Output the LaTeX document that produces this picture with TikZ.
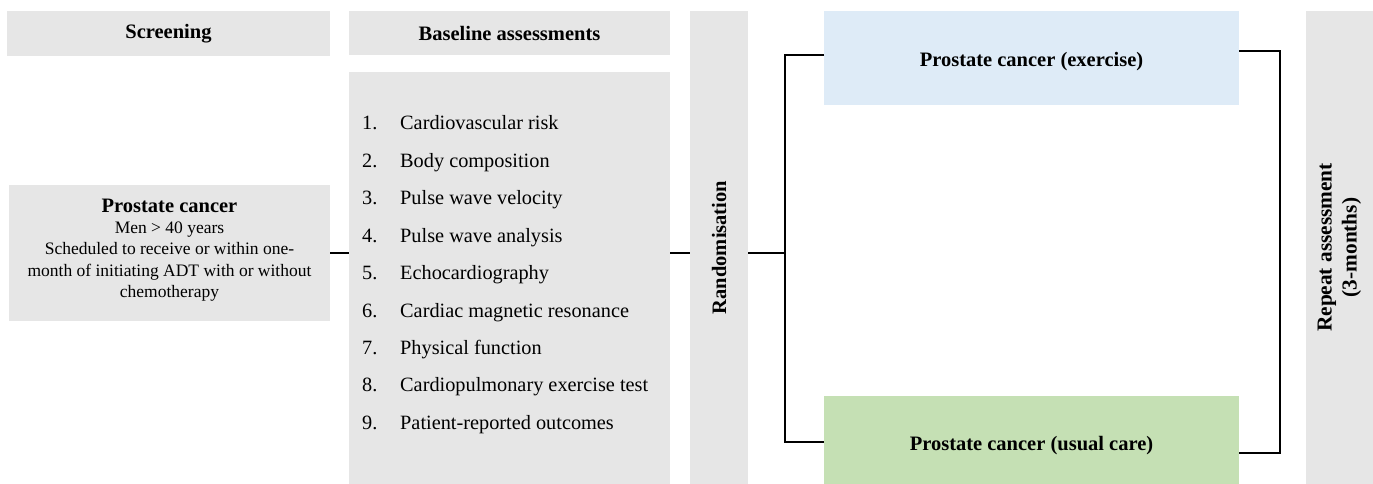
\documentclass[tikz,border=0pt]{standalone}
\usepackage{fontspec}
\setmainfont{Liberation Serif}
\usetikzlibrary{calc}

\definecolor{boxgrey}{HTML}{E6E6E6}
\definecolor{exblue}{HTML}{DEEBF7}
\definecolor{ucgreen}{HTML}{C5E0B4}

\begin{document}
\begin{tikzpicture}[x=1pt,y=-1pt,
	box/.style={fill=boxgrey, inner sep=0pt, outer sep=0pt, align=center},
	head/.style={font=\bfseries\fontsize{20.5}{23}\selectfont},
	item/.style={anchor=base west, inner sep=0pt, font=\fontsize{20.3}{23}\selectfont},
	conn/.style={line width=2pt}]
	
	\useasboundingbox (0,0) rectangle (1373,484);
	
	% headers
	\node[box, head, anchor=north west, minimum width=323pt, minimum height=45pt] (scrhead) at (7,11) {Screening};
	\node[box, head, anchor=north west, minimum width=321pt, minimum height=44pt] (basehead) at (349,11) {Baseline assessments};
	
	% screening
	\node[box, anchor=north west, minimum width=321pt, minimum height=136pt] (screen) at (9,185) {};
	\node[align=center, inner sep=0pt, font=\fontsize{17.5}{21.3}\selectfont] (screentext) at ([yshift=3pt]screen.center)
	{{\bfseries\fontsize{20.5}{21}\selectfont Prostate cancer}\\Men > 40 years\\Scheduled to receive or within one-\\month of initiating ADT with or without\\chemotherapy};
	
	% baseline assessments
	\node[box, anchor=north west, minimum width=321pt, minimum height=412pt] (base) at (349,72) {};
	\foreach \i/\t in {1/Cardiovascular risk, 2/Body composition, 3/Pulse wave velocity,
		4/Pulse wave analysis, 5/Echocardiography, 6/Cardiac magnetic resonance,
		7/Physical function, 8/Cardiopulmonary exercise test, 9/Patient-reported outcomes}
	{
		\node[item] (num\i) at (362,{130+(\i-1)*37.4}) {\i.};
		\node[item] (item\i) at (400,{130+(\i-1)*37.4}) {\t};
	}
	
	% randomisation
	\node[box, head, rotate=90, minimum width=473pt, minimum height=58pt] (rand) at (719,247.5) {Randomisation};
	
	% arms
	\node[box, head, fill=exblue, anchor=north west, minimum width=415pt, minimum height=94pt] (exer) at (824,11) {\raisebox{-4pt}[\height][\depth]{Prostate cancer (exercise)}};
	\node[box, head, fill=ucgreen, anchor=north west, minimum width=415pt, minimum height=88pt] (usual) at (824,396) {\raisebox{-6pt}[\height][\depth]{Prostate cancer (usual care)}};
	
	% repeat
	\node[box, rotate=90, minimum width=473pt, minimum height=67pt, font=\bfseries\fontsize{21.3}{25}\selectfont] (repeat) at (1339.5,247.5) {Repeat assessment\\(3-months)};
	
	\coordinate (split) at (785,253);
	\coordinate (join) at (1280,253);
	
	\draw[conn] (screen.east) -- (base.west |- screen.east);
	\draw[conn] (base.east |- screen.east) -- (rand.north |- screen.east);
	\draw[conn] (rand.south |- split) -- (split);
	\draw[conn] ([yshift=3pt]exer.west) -| (split) |- ([yshift=-2pt]usual.west);
	\draw[conn] ([yshift=7pt]exer.east) -| (join) |- ([yshift=-13pt]usual.east);
	
\end{tikzpicture}
\end{document}
